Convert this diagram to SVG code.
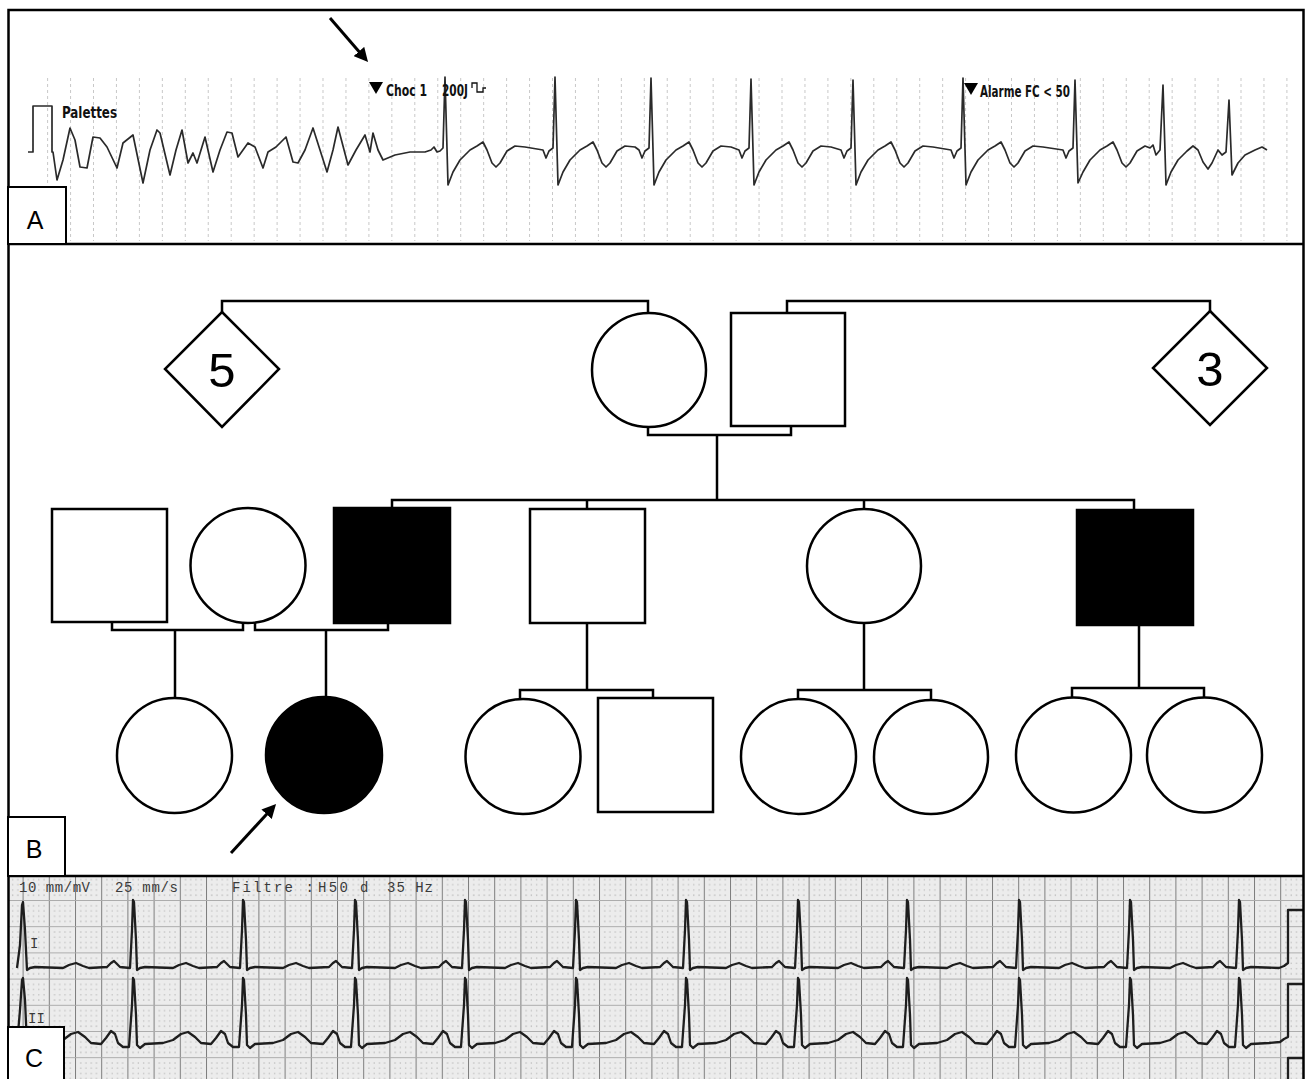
<svg xmlns="http://www.w3.org/2000/svg" width="1306" height="1079" viewBox="0 0 1306 1079">
<style>
.frame{fill:none;stroke:#000;stroke-width:2.5}
.lbl{fill:#fff;stroke:#000;stroke-width:2}
.lbltxt{font-family:"Liberation Sans",Arial,sans-serif;font-size:25px;fill:#000;text-anchor:middle}
.ped{fill:#fff;stroke:#000;stroke-width:2.5}
.aff{fill:#000;stroke:#000;stroke-width:2.5}
.con{fill:none;stroke:#000;stroke-width:2.5;stroke-linejoin:miter}
.num{font-family:"Liberation Sans",Arial,sans-serif;font-size:49px;fill:#000;text-anchor:middle}
.traceA{fill:none;stroke:#2a2a2a;stroke-width:1.7;stroke-linejoin:round}
.traceC{fill:none;stroke:#1e1e1e;stroke-width:2.3;stroke-linejoin:round}
.mon{font-family:"Liberation Sans Narrow","DejaVu Sans Condensed","Liberation Sans",sans-serif;font-weight:bold;font-size:16px;fill:#111}
.ecgtxt{font-family:"Liberation Mono","DejaVu Sans Mono",monospace;font-size:14px;fill:#3a3a3a}
.arrow{stroke:#000;stroke-width:3;fill:none}
</style>
<defs>
<marker id="ah" viewBox="0 0 10 10" refX="7.1" refY="5" markerWidth="14" markerHeight="14" markerUnits="userSpaceOnUse" orient="auto">
<path d="M0,0 L10,5 L0,10 z" fill="#000"/>
</marker>
<pattern id="dotsA" x="93" y="0" width="22.95" height="6" patternUnits="userSpaceOnUse">
<rect x="0" y="0" width="1" height="3" fill="#c8c8c8"/>
</pattern>
<pattern id="ecgGrid" x="22.6" y="9.2" width="26.2" height="26.2" patternUnits="userSpaceOnUse">
<rect width="26.2" height="26.2" fill="#ececec"/>
<g stroke="#bdbdbd" stroke-width="1" stroke-dasharray="1 4.24">
<line x1="5.74" y1="0" x2="5.74" y2="26.2"/>
<line x1="10.98" y1="0" x2="10.98" y2="26.2"/>
<line x1="16.22" y1="0" x2="16.22" y2="26.2"/>
<line x1="21.46" y1="0" x2="21.46" y2="26.2"/>
<line x1="0" y1="5.74" x2="26.2" y2="5.74"/>
<line x1="0" y1="10.98" x2="26.2" y2="10.98"/>
<line x1="0" y1="16.22" x2="26.2" y2="16.22"/>
<line x1="0" y1="21.46" x2="26.2" y2="21.46"/>
</g>
<line x1="0.5" y1="0" x2="0.5" y2="26.2" stroke="#7d7d7d" stroke-width="1"/>
<line x1="0" y1="0.5" x2="26.2" y2="0.5" stroke="#ababab" stroke-width="1"/>
</pattern>
</defs>

<rect x="0" y="0" width="1306" height="1079" fill="#fff"/>

<!-- Panel A: ECG monitor strip -->
<g id="panelA">
<rect x="45" y="75" width="1245" height="166" fill="url(#dotsA)"/>
<path class="traceA" d="M28,152 H33 V106 H52 V152 L53,152 L57,180 L63,160 L70,128 L75,140 L80,167 L87,168 L93,137 L100,138 L107,147 L117,168 L123,143 L133,135 L143,183 L150,150 L157,130 L160,133 L170,175 L176,150 L182,130 L188,163 L193,153 L197,163 L205,137 L213,172 L220,150 L227,132 L232,133 L238,157 L248,143 L255,147 L263,168 L268,152 L276,147 L286,137 L293,162 L298,163 L305,150 L313,128 L320,150 L327,172 L333,150 L338,127 L348,165 L356,150 L365,135 L370,152 L373,133 L378,150 L383,160 L395,155 L410,152 L425,152 L431,150 L434,147 L437,152 L440,151 L443,148 L445,77 L448,185 L453,172 L460,160 L470,150 L477,146 L483,142 L487,150 L492,163 L496,167 L500,163 L507,151 L515,146 L525,147 L543,150 L546,158 L549,151 L553,148 L555,77 L558,185 L563,172 L570,160 L580,150 L587,146 L593,142 L597,150 L602,163 L606,167 L610,163 L617,151 L625,146 L635,147 L639,150 L642,158 L645,151 L649,148 L651,78 L654,185 L659,172 L666,160 L676,150 L683,146 L689,142 L693,150 L698,163 L702,167 L706,163 L713,151 L721,146 L731,147 L739,150 L742,158 L745,151 L749,148 L751,79 L754,185 L759,172 L766,160 L776,150 L783,146 L789,142 L793,150 L798,163 L802,167 L806,163 L813,151 L821,146 L831,147 L841,150 L844,158 L847,151 L851,148 L853,80 L856,185 L861,172 L868,160 L878,150 L885,146 L891,142 L895,150 L900,163 L904,167 L908,163 L915,151 L923,146 L933,147 L951,150 L954,158 L957,151 L961,148 L963,78 L966,185 L971,172 L978,160 L988,150 L995,146 L1001,142 L1005,150 L1010,163 L1014,167 L1018,163 L1025,151 L1033,146 L1043,147 L1063,150 L1066,158 L1069,151 L1073,148 L1075,80 L1078,183 L1083,172 L1090,160 L1100,150 L1107,146 L1113,142 L1117,150 L1122,163 L1126,167 L1130,163 L1137,151 L1145,146 L1150,148 L1153,145 L1156,155 L1160,150 L1163,85 L1166,185 L1171,172 L1178,160 L1187,151 L1193,146 L1198,150 L1203,162 L1208,169 L1212,163 L1218,150 L1222,155 L1226,152 L1229,100 L1232,175 L1238,163 L1245,155 L1255,150 L1262,147 L1267,150"/>
<text class="mon" x="62" y="118" textLength="55" lengthAdjust="spacingAndGlyphs">Palettes</text>
<polygon points="369,82 383,82 376,94" fill="#000"/>
<text class="mon" x="386" y="96" textLength="41" lengthAdjust="spacingAndGlyphs">Choc 1</text>
<text class="mon" x="442" y="96" textLength="26" lengthAdjust="spacingAndGlyphs">200J</text>
<path d="M472,88 V83 H477 V92 H483 V88 H486" fill="none" stroke="#111" stroke-width="1.3"/>
<polygon points="964,83 978,83 971,95" fill="#000"/>
<text class="mon" x="980" y="97" textLength="90" lengthAdjust="spacingAndGlyphs">Alarme FC &lt; 50</text>
<line class="arrow" x1="330" y1="18" x2="365.4" y2="59" marker-end="url(#ah)"/>
</g>

<!-- Panel C: ECG paper -->
<g id="panelC">
<rect x="8" y="877" width="1296" height="202" fill="url(#ecgGrid)"/>
<text class="ecgtxt" x="19" y="892" textLength="71" lengthAdjust="spacing">10 mm/mV</text>
<text class="ecgtxt" x="115" y="892" textLength="63" lengthAdjust="spacing">25 mm/s</text>
<text class="ecgtxt" x="232" y="892" textLength="82" lengthAdjust="spacing">Filtre :</text>
<text class="ecgtxt" x="318" y="892" textLength="30" lengthAdjust="spacing">H50</text>
<text class="ecgtxt" x="360" y="892">d</text>
<text class="ecgtxt" x="387" y="892" textLength="46" lengthAdjust="spacing">35 Hz</text>
<text class="ecgtxt" x="30" y="948" font-size="12">I</text>
<text class="ecgtxt" x="28" y="1023" font-size="12">II</text>
<path class="traceC" d="M17,968 L20,945 L22,905 L23,902 L25,930 L27,970 L30,968 L35,967 L63,968 L69,965 L76,963 L83,966 L89,968 L107,967 L111,963 L114,961 L117,964 L120,967 L130,968 L132,930 L133,900 L134,902 L136,940 L137,970 L140,968 L145,967 L173,968 L179,965 L186,963 L193,966 L199,968 L217,967 L221,963 L224,961 L227,964 L230,967 L240,968 L242,930 L243,900 L244,902 L246,940 L247,970 L250,968 L255,967 L283,968 L289,965 L296,963 L303,966 L309,968 L329,967 L333,963 L336,961 L339,964 L342,967 L352,968 L354,930 L355,900 L356,902 L358,940 L359,970 L362,968 L367,967 L395,968 L401,965 L408,963 L415,966 L421,968 L439,967 L443,963 L446,961 L449,964 L452,967 L462,968 L464,930 L465,900 L466,902 L468,940 L469,970 L472,968 L477,967 L505,968 L511,965 L518,963 L525,966 L531,968 L550,967 L554,963 L557,961 L560,964 L563,967 L573,968 L575,930 L576,900 L577,902 L579,940 L580,970 L583,968 L588,967 L616,968 L622,965 L629,963 L636,966 L642,968 L660,967 L664,963 L667,961 L670,964 L673,967 L683,968 L685,930 L686,900 L687,902 L689,940 L690,970 L693,968 L698,967 L726,968 L732,965 L739,963 L746,966 L752,968 L772,967 L776,963 L779,961 L782,964 L785,967 L795,968 L797,930 L798,900 L799,902 L801,940 L802,970 L805,968 L810,967 L838,968 L844,965 L851,963 L858,966 L864,968 L881,967 L885,963 L888,961 L891,964 L894,967 L904,968 L906,930 L907,900 L908,902 L910,940 L911,970 L914,968 L919,967 L947,968 L953,965 L960,963 L967,966 L973,968 L993,967 L997,963 L1000,961 L1003,964 L1006,967 L1016,968 L1018,930 L1019,900 L1020,902 L1022,940 L1023,970 L1026,968 L1031,967 L1059,968 L1065,965 L1072,963 L1079,966 L1085,968 L1104,967 L1108,963 L1111,961 L1114,964 L1117,967 L1127,968 L1129,930 L1130,900 L1131,902 L1133,940 L1134,970 L1137,968 L1142,967 L1170,968 L1176,965 L1183,963 L1190,966 L1196,968 L1213,967 L1217,963 L1220,961 L1223,964 L1226,967 L1236,968 L1238,930 L1239,900 L1240,902 L1242,940 L1243,970 L1246,968 L1251,967 L1279,968 L1284,966 L1288,963 L1288,910 L1304,910"/>
<path class="traceC" d="M17,1045 L20,1010 L22,980 L23,978 L25,1000 L27,1045 L30,1048 L35,1044 L53,1043 L63,1040 L71,1034 L78,1032 L85,1037 L91,1043 L101,1044 L106,1038 L111,1031 L115,1034 L118,1043 L123,1047 L129,1047 L132,1005 L133,978 L134,980 L136,1015 L137,1045 L140,1048 L145,1044 L163,1043 L173,1040 L181,1034 L188,1032 L195,1037 L201,1043 L211,1044 L216,1038 L221,1031 L225,1034 L228,1043 L233,1047 L239,1047 L242,1005 L243,978 L244,980 L246,1015 L247,1045 L250,1048 L255,1044 L273,1043 L283,1040 L291,1034 L298,1032 L305,1037 L311,1043 L323,1044 L328,1038 L333,1031 L337,1034 L340,1043 L345,1047 L351,1047 L354,1005 L355,978 L356,980 L358,1015 L359,1045 L362,1048 L367,1044 L385,1043 L395,1040 L403,1034 L410,1032 L417,1037 L423,1043 L433,1044 L438,1038 L443,1031 L447,1034 L450,1043 L455,1047 L461,1047 L464,1005 L465,978 L466,980 L468,1015 L469,1045 L472,1048 L477,1044 L495,1043 L505,1040 L513,1034 L520,1032 L527,1037 L533,1043 L544,1044 L549,1038 L554,1031 L558,1034 L561,1043 L566,1047 L572,1047 L575,1005 L576,978 L577,980 L579,1015 L580,1045 L583,1048 L588,1044 L606,1043 L616,1040 L624,1034 L631,1032 L638,1037 L644,1043 L654,1044 L659,1038 L664,1031 L668,1034 L671,1043 L676,1047 L682,1047 L685,1005 L686,978 L687,980 L689,1015 L690,1045 L693,1048 L698,1044 L716,1043 L726,1040 L734,1034 L741,1032 L748,1037 L754,1043 L766,1044 L771,1038 L776,1031 L780,1034 L783,1043 L788,1047 L794,1047 L797,1005 L798,978 L799,980 L801,1015 L802,1045 L805,1048 L810,1044 L828,1043 L838,1040 L846,1034 L853,1032 L860,1037 L866,1043 L875,1044 L880,1038 L885,1031 L889,1034 L892,1043 L897,1047 L903,1047 L906,1005 L907,978 L908,980 L910,1015 L911,1045 L914,1048 L919,1044 L937,1043 L947,1040 L955,1034 L962,1032 L969,1037 L975,1043 L987,1044 L992,1038 L997,1031 L1001,1034 L1004,1043 L1009,1047 L1015,1047 L1018,1005 L1019,978 L1020,980 L1022,1015 L1023,1045 L1026,1048 L1031,1044 L1049,1043 L1059,1040 L1067,1034 L1074,1032 L1081,1037 L1087,1043 L1098,1044 L1103,1038 L1108,1031 L1112,1034 L1115,1043 L1120,1047 L1126,1047 L1129,1005 L1130,978 L1131,980 L1133,1015 L1134,1045 L1137,1048 L1142,1044 L1160,1043 L1170,1040 L1178,1034 L1185,1032 L1192,1037 L1198,1043 L1207,1044 L1212,1038 L1217,1031 L1221,1034 L1224,1043 L1229,1047 L1235,1047 L1238,1005 L1239,978 L1240,980 L1242,1015 L1243,1045 L1246,1048 L1251,1044 L1269,1043 L1280,1042 L1284,1039 L1288,1037 L1288,984 L1304,984"/>
<path class="traceC" d="M1288,1079 V1058 H1304"/>
</g>

<!-- Frame and panel separators -->
<g id="frame">
<rect class="frame" x="8.5" y="10" width="1295" height="1080"/>
<line class="frame" x1="8" y1="244" x2="1304" y2="244"/>
<line class="frame" x1="8" y1="876" x2="1304" y2="876"/>
</g>

<!-- Pedigree connectors -->
<g id="connectors">
<path class="con" d="M222,312 V301 H648 V313"/>
<path class="con" d="M787,313 V301 H1210 V311"/>
<path class="con" d="M648,427 V435 H791 V426"/>
<path class="con" d="M717,435 V500"/>
<path class="con" d="M392,508 V500 H1134 V510"/>
<path class="con" d="M587,500 V509"/>
<path class="con" d="M864,500 V509"/>
<path class="con" d="M112,622 V630 H243 V622"/>
<path class="con" d="M255,622 V630 H388 V623"/>
<path class="con" d="M175,630 V699"/>
<path class="con" d="M326,630 V697"/>
<path class="con" d="M587,623 V690"/>
<path class="con" d="M520,700 V690 H653 V698"/>
<path class="con" d="M864,623 V690"/>
<path class="con" d="M798,700 V690 H931 V701"/>
<path class="con" d="M1139,625 V688"/>
<path class="con" d="M1072,698 V688 H1204 V698"/>
<line class="arrow" x1="231" y1="853" x2="273.3" y2="807" marker-end="url(#ah)"/>
</g>

<!-- Pedigree nodes -->
<g id="n-siblings5"><polygon class="ped" points="222,312 279,369 222,427 165,369"/><text class="num" x="222" y="387">5</text></g>
<g id="n-siblings3"><polygon class="ped" points="1210,311 1267,368 1210,425 1153,368"/><text class="num" x="1210" y="386">3</text></g>
<g id="n-grandmother"><circle class="ped" cx="649" cy="370" r="57"/></g>
<g id="n-grandfather"><rect class="ped" x="731" y="313" width="114" height="113"/></g>
<g id="n-g2-husband1"><rect class="ped" x="52" y="509" width="115" height="113"/></g>
<g id="n-g2-mother"><circle class="ped" cx="248" cy="565.5" r="57.5"/></g>
<g id="n-g2-affected1"><rect class="aff" x="334" y="508" width="116" height="115"/></g>
<g id="n-g2-son2"><rect class="ped" x="530" y="509" width="115" height="114"/></g>
<g id="n-g2-daughter"><circle class="ped" cx="864" cy="566" r="57"/></g>
<g id="n-g2-affected2"><rect class="aff" x="1077" y="510" width="116" height="115"/></g>
<g id="n-g3-1"><circle class="ped" cx="174.5" cy="755.5" r="57.5"/></g>
<g id="n-g3-proband"><circle class="aff" cx="324" cy="755" r="58"/></g>
<g id="n-g3-3"><circle class="ped" cx="523" cy="756.5" r="57.5"/></g>
<g id="n-g3-4"><rect class="ped" x="598" y="698" width="115" height="114"/></g>
<g id="n-g3-5"><circle class="ped" cx="798.5" cy="756.5" r="57.5"/></g>
<g id="n-g3-6"><circle class="ped" cx="931" cy="757" r="57"/></g>
<g id="n-g3-7"><circle class="ped" cx="1073.5" cy="755" r="57.5"/></g>
<g id="n-g3-8"><circle class="ped" cx="1204.5" cy="755" r="57.5"/></g>

<!-- Panel labels -->
<g id="label-A"><rect class="lbl" x="8" y="187" width="58" height="57"/><text class="lbltxt" x="35" y="229">A</text></g>
<g id="label-B"><rect class="lbl" x="8" y="817" width="57" height="59"/><text class="lbltxt" x="34" y="858">B</text></g>
<g id="label-C"><rect class="lbl" x="8" y="1027" width="56" height="60"/><text class="lbltxt" x="34" y="1067">C</text></g>
</svg>
